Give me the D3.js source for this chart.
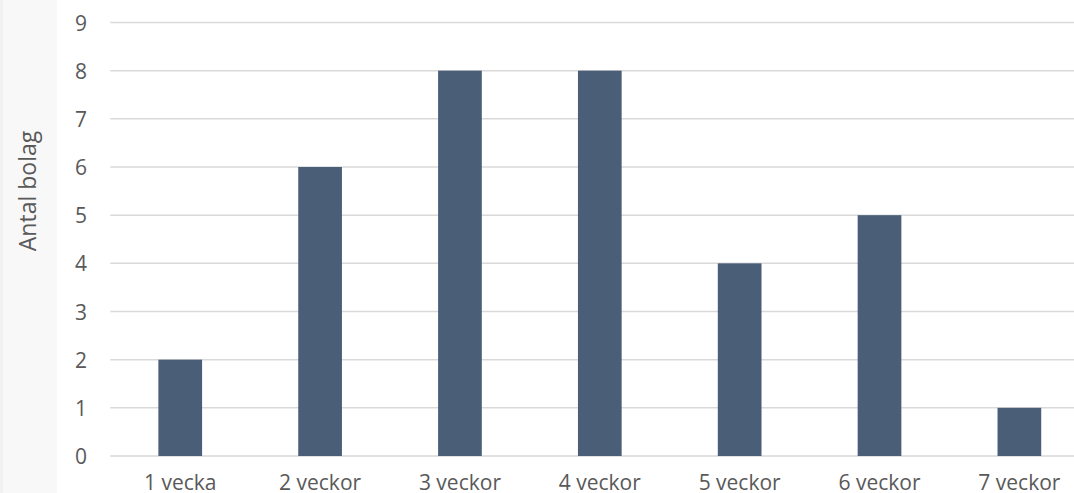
<!DOCTYPE html>
<html>
<head>
<meta charset="utf-8">
<script src="https://cdn.jsdelivr.net/npm/d3@7"></script>
<style>
  html, body { margin: 0; padding: 0; background: #ffffff; }
  svg { display: block; }
  text { font-family: "Open Sans", Lato, sans-serif; fill: #595959; }
</style>
</head>
<body>
<svg id="chart" width="1074" height="493"></svg>
<script>
// Antal bolag per tidsintervall
const categories = ["1 vecka", "2 veckor", "3 veckor", "4 veckor", "5 veckor", "6 veckor", "7 veckor"];
const values = [2, 6, 8, 8, 4, 5, 1];
const yTicks = [0, 1, 2, 3, 4, 5, 6, 7, 8, 9];
const yTitle = "Antal bolag";

const svg = d3.select("#chart");
const W = 1074, H = 493;
const FONT = "'Open Sans', Lato, sans-serif";

// light side panel on the left edge
svg.append("rect").attr("x", 0).attr("y", 0).attr("width", 57).attr("height", H).attr("fill", "#f8f8f8");
svg.append("rect").attr("x", 0).attr("y", 0).attr("width", 3).attr("height", H).attr("fill", "#f1f1f1");

const plot = { left: 110.3, right: 1089.3, top: 22.5, bottom: 456 };

const x = d3.scaleBand()
  .domain(categories)
  .range([plot.left, plot.right])
  .paddingInner(0.6875)
  .paddingOuter(0.34375);

const y = d3.scaleLinear()
  .domain([0, 9])
  .range([plot.bottom, plot.top]);

// horizontal gridlines
svg.append("g")
  .selectAll("line")
  .data(yTicks)
  .join("line")
  .attr("x1", plot.left)
  .attr("x2", plot.right)
  .attr("y1", d => y(d))
  .attr("y2", d => y(d))
  .attr("stroke", "#d9d9d9")
  .attr("stroke-width", 1.5);

// bars
svg.append("g")
  .selectAll("rect")
  .data(categories.map((c, i) => ({ c, v: values[i] })))
  .join("rect")
  .attr("x", d => x(d.c))
  .attr("width", x.bandwidth())
  .attr("y", d => y(d.v))
  .attr("height", d => y(0) - y(d.v))
  .attr("fill", "#4b5e78");

// y axis labels
const yAxis = d3.axisLeft(y).tickValues(yTicks).tickSize(0).tickPadding(0).tickFormat(d3.format("d"));
const gy = svg.append("g").attr("transform", "translate(87,0)").call(yAxis);
gy.select(".domain").remove();
gy.selectAll("text")
  .attr("font-size", 21)
  .attr("font-family", FONT)
  .attr("fill", "#595959")
  .attr("dy", "0.36em");

// x axis labels
const xAxis = d3.axisBottom(x).tickSize(0).tickPadding(0);
const gx = svg.append("g").attr("transform", `translate(0,${plot.bottom})`).call(xAxis);
gx.select(".domain").remove();
gx.selectAll("text")
  .attr("font-size", 21)
  .attr("font-family", FONT)
  .attr("fill", "#595959")
  .attr("dy", null)
  .attr("y", 34);

// y axis title
svg.append("text")
  .attr("transform", "translate(36,191) rotate(-90)")
  .attr("text-anchor", "middle")
  .attr("font-size", 23)
  .text(yTitle);
</script>
</body>
</html>
